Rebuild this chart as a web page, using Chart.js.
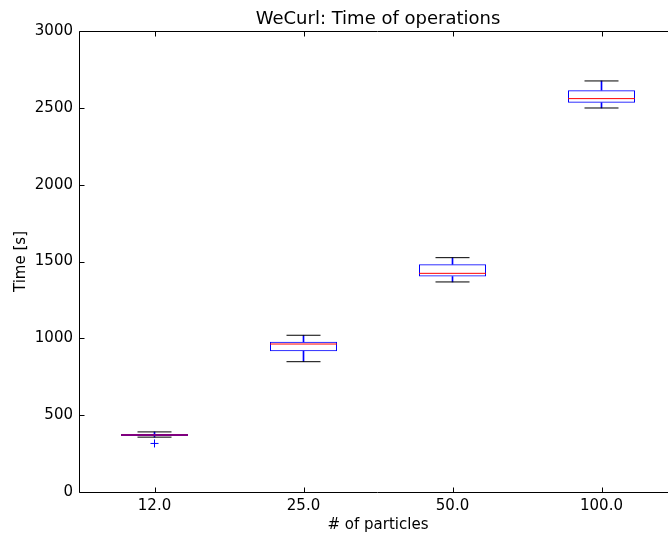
<!DOCTYPE html>
<html>
<head>
<meta charset="utf-8">
<title>WeCurl: Time of operations</title>
<script src="https://cdn.jsdelivr.net/npm/chart.js@4"></script>
<style>
  html, body { margin: 0; padding: 0; background: #fff; overflow: hidden; }
  #wrap { width: 668px; height: 539px; overflow: hidden; position: relative; }
  #c { display: block; width: 700px; height: 539px; }
</style>
</head>
<body>
<div id="wrap"><canvas id="c" width="700" height="539"></canvas></div>
<script>
// Box-plot statistics per particle count (seconds)
const categories  = ['12.0', '25.0', '50.0', '100.0'];
const whiskerLow  = [357, 848, 1367, 2499];
const q1          = [364, 916, 1402, 2533];
const median      = [371, 963, 1423, 2560];
const q3          = [378, 977, 1482, 2615];
const whiskerHigh = [391, 1020, 1525, 2675];
const outliers    = [316, null, null, null];
const yTicks      = [0, 500, 1000, 1500, 2000, 2500, 3000];

const FONT = 'DejaVu Sans';
const BLUE = '#0000ff';
const RED = '#ff0000';

// spans for floating bars
const boxSpans = categories.map((_, i) => [q1[i], q3[i]]);
const upperWhisker = categories.map((_, i) => [q3[i], whiskerHigh[i]]);
const lowerWhisker = categories.map((_, i) => [whiskerLow[i], q1[i]]);

// frame with inward ticks on every side
const framePlugin = {
  id: 'frame',
  afterDatasetsDraw(chart) {
    const { ctx, chartArea: a, scales } = chart;
    const L = a.left - 0.5, R = a.right - 0.5, T = a.top + 0.5, B = a.bottom + 0.5;
    ctx.save();
    ctx.strokeStyle = '#000';
    ctx.lineWidth = 1;
    ctx.beginPath();
    ctx.rect(L, T, R - L, B - T);
    const tl = 5;
    scales.y.ticks.forEach((t, i) => {
      const y = Math.round(scales.y.getPixelForTick(i)) + 0.5;
      ctx.moveTo(L, y); ctx.lineTo(L + tl, y);
      ctx.moveTo(R, y); ctx.lineTo(R - tl, y);
    });
    scales.x.ticks.forEach((t, i) => {
      const x = Math.round(scales.x.getPixelForTick(i)) + 0.5;
      ctx.moveTo(x, B); ctx.lineTo(x, B - tl);
      ctx.moveTo(x, T); ctx.lineTo(x, T + tl);
    });
    ctx.stroke();
    ctx.restore();
  }
};

new Chart(document.getElementById('c'), {
  data: {
    labels: categories,
    datasets: [
      {
        type: 'line', label: 'median', data: median, order: 0,
        showLine: false, pointStyle: 'line', pointRadius: 33.5,
        pointBorderColor: RED, pointBorderWidth: 1, pointBackgroundColor: RED
      },
      {
        type: 'line', label: 'cap high', data: whiskerHigh, order: 1,
        showLine: false, pointStyle: 'line', pointRadius: 17,
        pointBorderColor: '#000', pointBorderWidth: 1
      },
      {
        type: 'line', label: 'cap low', data: whiskerLow, order: 1,
        showLine: false, pointStyle: 'line', pointRadius: 17,
        pointBorderColor: '#000', pointBorderWidth: 1
      },
      {
        type: 'line', label: 'fliers', data: outliers, order: 1,
        showLine: false, pointStyle: 'cross', pointRadius: 4,
        pointBorderColor: BLUE, pointBorderWidth: 1
      },
      {
        type: 'bar', label: 'box', data: boxSpans, order: 2, grouped: false,
        backgroundColor: 'rgba(0,0,0,0)', borderColor: BLUE, borderWidth: 1,
        borderSkipped: false, categoryPercentage: 0.9, barPercentage: 0.5
      },
      {
        type: 'bar', label: 'whisker high', data: upperWhisker, order: 3, grouped: false,
        backgroundColor: BLUE, borderWidth: 0, barThickness: 1
      },
      {
        type: 'bar', label: 'whisker low', data: lowerWhisker, order: 3, grouped: false,
        backgroundColor: BLUE, borderWidth: 0, barThickness: 1
      }
    ]
  },
  options: {
    responsive: false,
    animation: false,
    devicePixelRatio: 1,
    layout: { autoPadding: false, padding: { left: 0, right: 24, top: 0, bottom: 0 } },
    plugins: {
      legend: { display: false },
      tooltip: { enabled: false },
      title: {
        display: true,
        text: 'WeCurl: Time of operations',
        fullSize: false,
        color: '#000',
        font: { family: FONT, size: 18, weight: 'normal' },
        padding: { top: 9, bottom: 0.4 }
      }
    },
    scales: {
      x: {
        type: 'category',
        offset: true,
        grid: { display: false, drawTicks: false },
        border: { display: false },
        ticks: { color: '#000', font: { family: FONT, size: 15 }, padding: 5, maxRotation: 0 },
        title: {
          display: true, text: '# of particles', color: '#000',
          font: { family: FONT, size: 15 }, padding: { top: 0, bottom: 5 }
        },
        afterFit(s) { s.height = 47; }
      },
      y: {
        min: 0, max: 3000,
        grid: { display: false, drawTicks: false },
        border: { display: false },
        afterBuildTicks(s) { s.ticks = yTicks.map(v => ({ value: v })); },
        ticks: {
          color: '#000', font: { family: FONT, size: 15 }, padding: 7,
          callback: v => String(v)
        },
        title: {
          display: true, text: 'Time [s]', color: '#000',
          font: { family: FONT, size: 15 }, padding: { top: 12, bottom: 0 }
        },
        afterFit(s) { s.width = 80; }
      }
    }
  },
  plugins: [framePlugin]
});
</script>
</body>
</html>
